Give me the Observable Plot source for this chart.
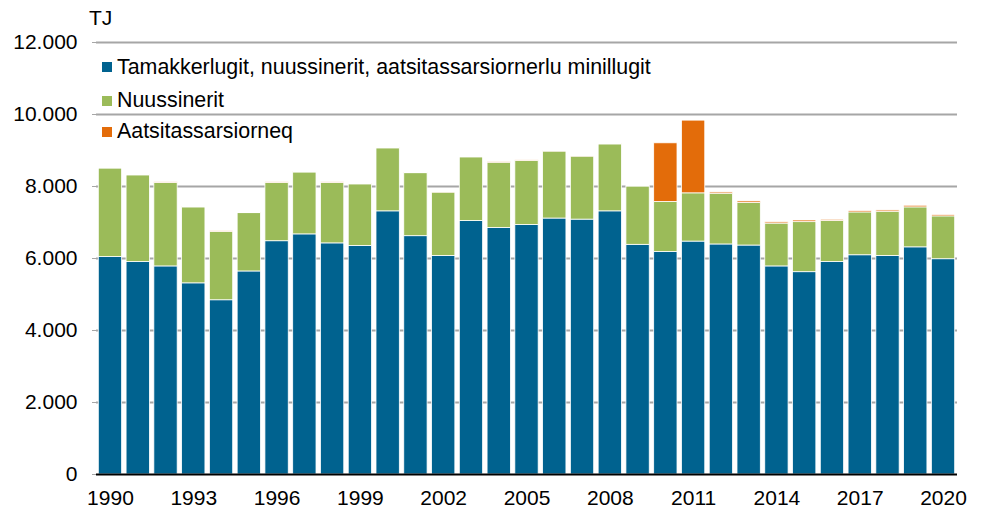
<!DOCTYPE html>
<html>
<head>
<meta charset="utf-8">
<script src="https://cdn.jsdelivr.net/npm/d3@7"></script>
<script src="https://cdn.jsdelivr.net/npm/@observablehq/plot@0.6"></script>
<style>
  html, body { margin: 0; padding: 0; background: white; }
  #wrap { position: relative; width: 981px; height: 511px; font-family: "Liberation Sans", Arial, sans-serif; }
  #unit { position: absolute; left: 89px; top: 6px; font-size: 21px; color: #000; line-height: 24px; }
  #legend { position: absolute; left: 102px; top: 0; font-size: 21.4px; color: #000; }
  #legend .row { position: absolute; left: 0; display: flex; align-items: center; height: 24px; white-space: nowrap; }
  #legend .sw { width: 10px; height: 10px; margin-right: 5px; flex: none; }
</style>
</head>
<body>
<div id="wrap">
  <div id="chart"></div>
  <div id="unit">TJ</div>
  <div id="legend"></div>
</div>
<script>
const years = d3.range(1990, 2021);
const seriesNames = [
  "Tamakkerlugit, nuussinerit, aatsitassarsiornerlu minillugit",
  "Nuussinerit",
  "Aatsitassarsiorneq"
];
const seriesColors = ["#00628F", "#9BBB59", "#E36C0A"];
const tamakkerlugit = [6040,5900,5780,5310,4840,5640,6480,6670,6420,6350,7310,6620,6070,7040,6850,6930,7110,7080,7310,6380,6180,6470,6390,6360,5780,5620,5900,6090,6070,6310,5980];
const nuussinerit   = [2460,2410,2320,2110,1900,1620,1620,1720,1680,1710,1750,1750,1760,1770,1810,1780,1860,1750,1860,1620,1390,1340,1410,1180,1190,1390,1140,1190,1230,1110,1190];
const aatsitassarsiorneq = [15,15,15,15,15,15,15,15,15,15,15,15,15,15,15,15,15,15,15,20,1630,2020,35,45,35,45,35,40,35,45,40];
const yTicks = [0,2000,4000,6000,8000,10000,12000];
const xTickYears = [1990,1993,1996,1999,2002,2005,2008,2011,2014,2017,2020];

const seriesValues = [tamakkerlugit, nuussinerit, aatsitassarsiorneq];
const data = [];
years.forEach((yr, i) => {
  seriesNames.forEach((s, j) => data.push({year: yr, series: s, value: seriesValues[j][i]}));
});

const fmt = d => d3.format(",")(d).replace(/,/g, ".");

const chart = Plot.plot({
  width: 981,
  height: 511,
  marginLeft: 96,
  marginRight: 24,
  marginTop: 42,
  marginBottom: 37,
  style: {fontFamily: "'Liberation Sans', Arial, sans-serif", fontSize: "21px", color: "#000", background: "white"},
  x: {type: "band", domain: years, paddingInner: 0.16, paddingOuter: 0.083, round: false, label: null},
  y: {domain: [0, 12000], label: null},
  color: {domain: seriesNames, range: seriesColors},
  marks: [
    Plot.gridY(yTicks.slice(1), {stroke: "#A6A6A6", strokeOpacity: 1, strokeWidth: 2}),
    Plot.barY(data, {x: "year", y: "value", fill: "series", stroke: "white", strokeWidth: 0.8, order: seriesNames}),
    Plot.ruleY([0], {stroke: "#000", strokeWidth: 2}),
    Plot.axisY(yTicks, {tickSize: 4, tickPadding: 15, stroke: "#A6A6A6", fill: "#000", tickFormat: fmt, label: null}),
    Plot.axisX(xTickYears, {tickSize: 0, tickPadding: 16, fill: "#000", tickFormat: d => String(d), label: null})
  ]
});
document.getElementById("chart").appendChild(chart);

const legend = d3.select("#legend");
const rowCenters = [67, 100.5, 131.5];
seriesNames.forEach((s, j) => {
  const row = legend.append("div").attr("class", "row").style("top", (rowCenters[j] - 12) + "px");
  row.append("div").attr("class", "sw").style("background", seriesColors[j]);
  row.append("span").text(s);
});
</script>
</body>
</html>
